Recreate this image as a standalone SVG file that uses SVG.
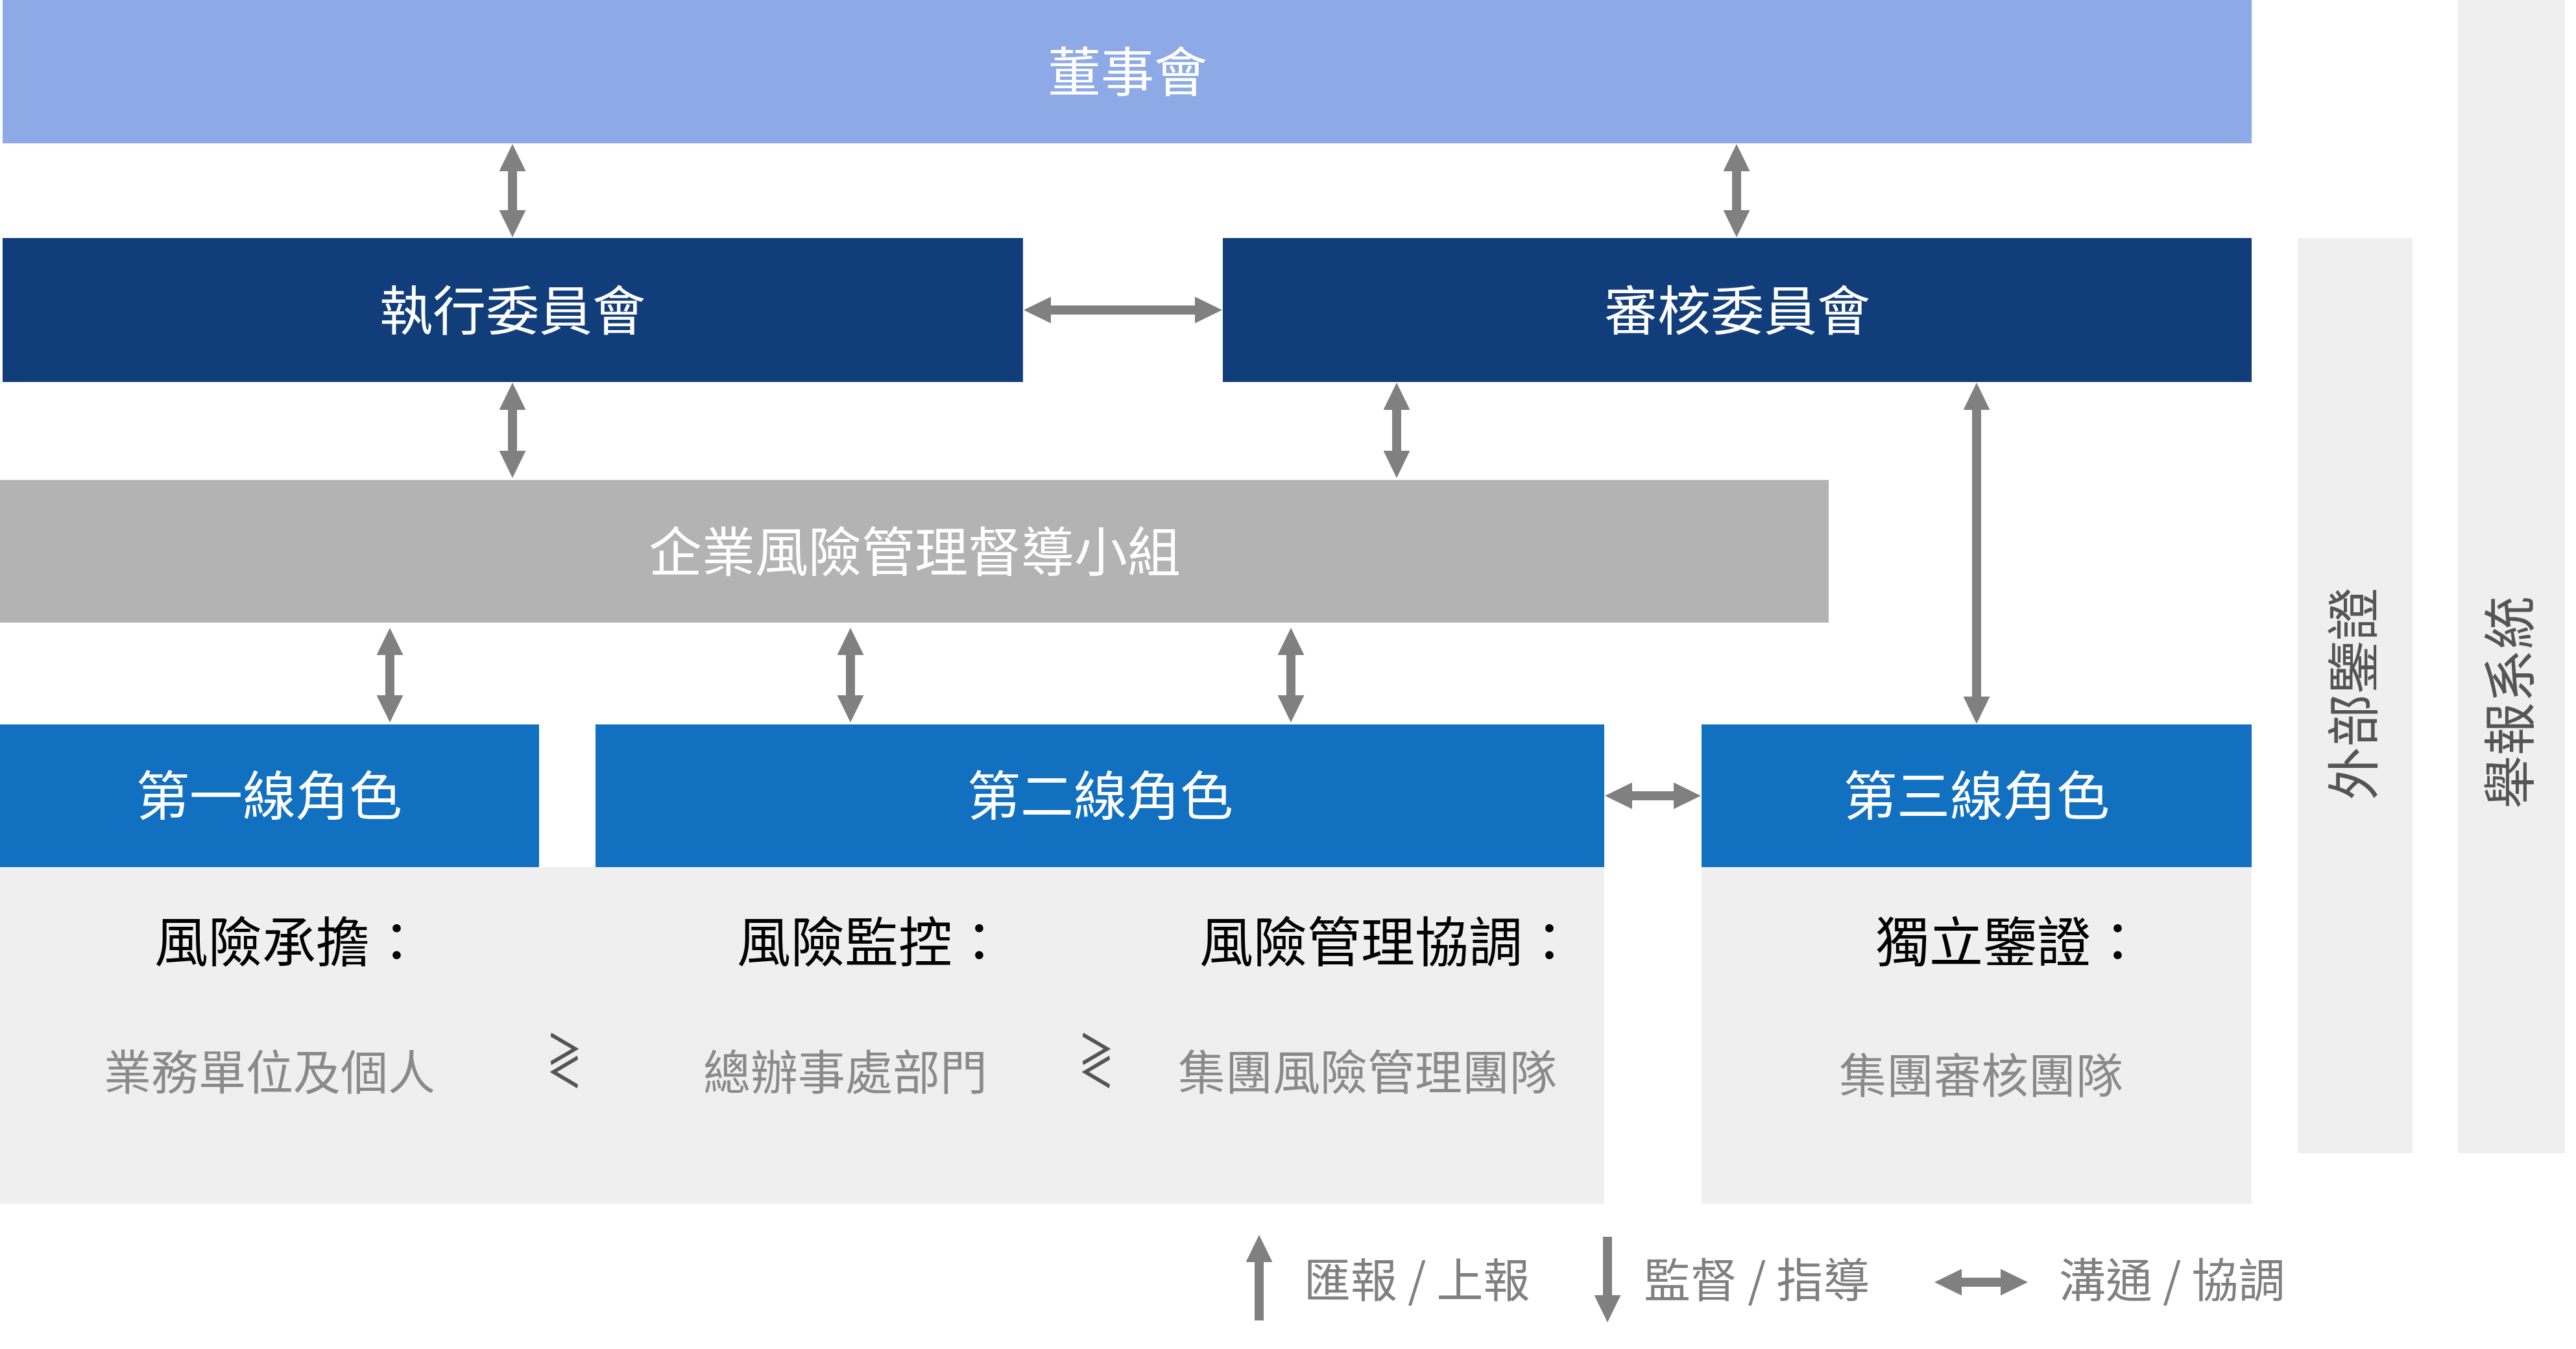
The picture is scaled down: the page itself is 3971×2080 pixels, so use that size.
<svg xmlns="http://www.w3.org/2000/svg" width="3971" height="2080" viewBox="0 0 3971 2080">
<style>
text{font-family:"Noto Sans CJK TC","Noto Sans CJK SC",sans-serif;}
.lbl{font-size:82px;fill:#ffffff;text-anchor:middle;}
.head{font-size:83px;fill:#000000;}
.sub{font-size:73px;fill:#8a8a8a;}
.vert{font-size:82px;fill:#555555;text-anchor:middle;}
.leg{font-size:72px;fill:#808080;}
.ge{font-size:92px;fill:#555555;text-anchor:middle;}
.arr{stroke:#808080;stroke-width:14;fill:none;marker-end:url(#ah);}
.dbl{stroke:#808080;stroke-width:14;fill:none;marker-start:url(#ah);marker-end:url(#ah);}
</style>
<defs>
<marker id="ah" markerUnits="userSpaceOnUse" viewBox="0 0 42 41" markerWidth="42" markerHeight="41" refX="1" refY="20.5" orient="auto-start-reverse">
<path d="M0,0 L42,20.5 L0,41 z" fill="#808080"/>
</marker>
</defs>
<rect width="3971" height="2080" fill="#ffffff"/>
<g id="board"><rect x="4" y="0" width="3467" height="221" fill="#8daae6"/><text class="lbl" x="1738" y="141">董事會</text></g>
<g id="exec"><rect x="4" y="367" width="1573" height="222" fill="#113e7b"/><text class="lbl" x="790" y="509">執行委員會</text></g>
<g id="audit"><rect x="1885" y="367" width="1586" height="222" fill="#113e7b"/><text class="lbl" x="2678" y="509">審核委員會</text></g>
<g id="erm"><rect x="0" y="740" width="2819" height="220" fill="#b3b3b3"/><text class="lbl" x="1410" y="881">企業風險管理督導小組</text></g>
<g id="panelA"><rect x="0" y="1337" width="2473" height="519" fill="#efefef"/></g>
<g id="panelB"><rect x="2623" y="1337" width="848" height="519" fill="#efefef"/></g>
<g id="line1"><rect x="0" y="1117" width="831" height="220" fill="#1170c0"/><text class="lbl" x="415" y="1257">第一線角色</text>
<text class="head" x="238" y="1483">風險承擔：</text><text class="sub" x="160" y="1680">業務單位及個人</text></g>
<g id="line2"><rect x="918" y="1117" width="1555" height="220" fill="#1170c0"/><text class="lbl" x="1696" y="1257">第二線角色</text>
<text class="head" x="1136" y="1483">風險監控：</text><text class="sub" x="1084" y="1680">總辦事處部門</text>
<text class="head" x="1849" y="1483">風險管理協調：</text><text class="sub" x="1816" y="1680">集團風險管理團隊</text></g>
<g id="line3"><rect x="2623" y="1117" width="848" height="220" fill="#1170c0"/><text class="lbl" x="3047" y="1257">第三線角色</text>
<text class="head" x="2891" y="1483">獨立鑒證：</text><text class="sub" x="2835" y="1685">集團審核團隊</text></g>
<g id="rel1"><text class="ge" transform="translate(870,1670) scale(0.6,1)" x="0" y="0">≷</text></g>
<g id="rel2"><text class="ge" transform="translate(1690,1670) scale(0.6,1)" x="0" y="0">≷</text></g>
<g id="external"><rect x="3542" y="367" width="177" height="1411" fill="#efefef"/><text class="vert" transform="translate(3627,1070) rotate(-90)" x="0" y="31">外部鑒證</text></g>
<g id="whistle"><rect x="3789" y="0" width="165" height="1778" fill="#efefef"/><text class="vert" transform="translate(3868,1083) rotate(-90)" x="0" y="31">舉報系統</text></g>
<g id="connectors">
<line class="dbl" x1="790" y1="263" x2="790" y2="325"/>
<line class="dbl" x1="2677" y1="263" x2="2677" y2="325"/>
<line class="dbl" x1="1619" y1="478" x2="1843" y2="478"/>
<line class="dbl" x1="790" y1="631" x2="790" y2="696"/>
<line class="dbl" x1="2153" y1="631" x2="2153" y2="696"/>
<line class="dbl" x1="3047" y1="631" x2="3047" y2="1075"/>
<line class="dbl" x1="601" y1="1009" x2="601" y2="1073"/>
<line class="dbl" x1="1311" y1="1009" x2="1311" y2="1073"/>
<line class="dbl" x1="1990" y1="1009" x2="1990" y2="1073"/>
<line class="dbl" x1="2515" y1="1227" x2="2581" y2="1227"/>
</g>
<g id="legend">
<line class="arr" x1="1941" y1="2036" x2="1941" y2="1945"/>
<text class="leg" x="2010" y="2000">匯報 / 上報</text>
<line class="arr" x1="2478" y1="1907" x2="2478" y2="1998"/>
<text class="leg" x="2534" y="2000">監督 / 指導</text>
<line class="dbl" x1="3023" y1="1977" x2="3085" y2="1977"/>
<text class="leg" x="3174" y="2000">溝通 / 協調</text>
</g>
</svg>
